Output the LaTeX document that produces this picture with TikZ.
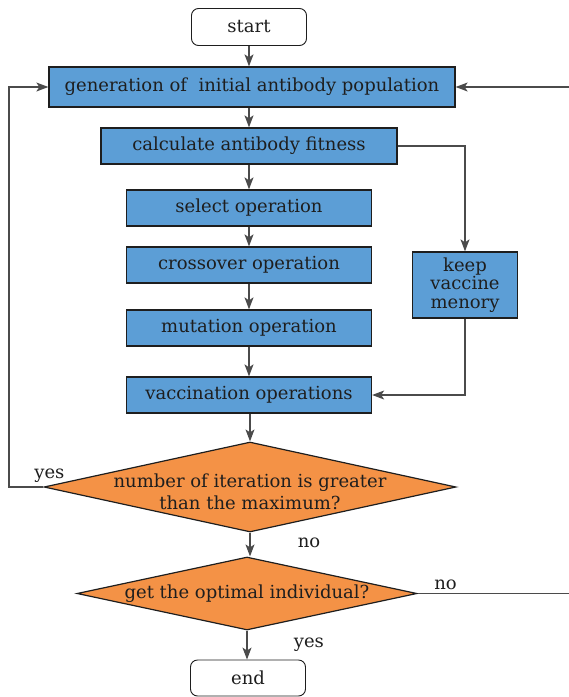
\documentclass[tikz,border=0pt]{standalone}
\usepackage{fontspec}
\setmainfont{DejaVu Serif}
\usepackage{tikz}
\usetikzlibrary{shapes.geometric,arrows.meta}
\definecolor{boxblue}{RGB}{92,158,214}
\definecolor{deciorange}{RGB}{244,146,70}
\definecolor{inkgray}{RGB}{30,30,30}
% two lines of a decision, kept out of the shape size
\newcommand{\decilines}[1]{\raisebox{-22pt}[0pt][0pt]{\begin{tabular}[b]{@{}c@{}}#1\end{tabular}}}

\begin{document}
\begin{tikzpicture}[x=1pt,y=-1pt,>={Stealth[length=12pt,width=9pt,inset=3pt]},
    font=\fontsize{18}{22}\selectfont,text=inkgray,
    terminal/.style={draw=inkgray,rounded corners=7pt,minimum width=115pt,minimum height=37pt,line width=0.9pt},
    process/.style={draw=inkgray,fill=boxblue,minimum height=36pt,line width=1.3pt},
    decision/.style={diamond,draw=inkgray,fill=deciorange,line width=1.2pt,align=center,inner sep=0pt},
    line/.style={draw=inkgray!80,line width=1.1pt}]
    \useasboundingbox (0,0) rectangle (569,697);
    \node[terminal] (start) at (249,27) {start};
    \node[process,minimum width=406pt,minimum height=40pt] (gen) at (252,87) {generation of \ initial antibody population};
    \node[process,minimum width=296pt] (calc) at (249,146) {calculate antibody fitness};
    \node[process,minimum width=245pt] (select) at (249,208) {select operation};
    \node[process,minimum width=245pt] (cross) at (249,265) {crossover operation};
    \node[process,minimum width=245pt] (mut) at (249,328) {mutation operation};
    \node[process,minimum width=245pt] (vacc) at (249,395) {vaccination operations};
    \node[process,minimum width=105pt,minimum height=66pt,align=center,inner sep=1pt,
        font=\fontsize{18}{18.5}\selectfont] (keep) at (465,285) {keep\\vaccine\\menory};
    \node[decision,aspect=4.58,minimum width=412pt,minimum height=90pt] (iter) at (250,487)
        {\decilines{number of iteration is greater\\than the maximum?}};
    \node[decision,aspect=4.66,minimum width=340pt,minimum height=73pt] (opt) at (247,593.5) {get the optimal individual?};
    \node[terminal,minimum height=36pt] (end) at (248,678) {end};
    \coordinate (lft) at (9,487);
    \coordinate (rgt) at (573,593.5);

    \draw[line,->] (start.south) -- (start.south |- gen.north);
    \draw[line,->] (gen.south -| calc) -- (calc);
    \draw[line,->] (calc) -- (select);
    \draw[line,->] (select) -- (cross);
    \draw[line,->] (cross) -- (mut);
    \draw[line,->] (mut) -- (vacc);
    \draw[line,->] (calc.east) -| (keep.north);
    \draw[line,->] (keep.south) |- (vacc.east);
    \draw[line,->] (vacc.south -| iter) -- (iter.north);
    \draw[line,->] (iter.south) -- node[anchor=west,xshift=44pt,pos=0.45] {no} (iter.south |- opt.north);
    \draw[line,->] (iter.west) -- node[pos=0,above,xshift=6pt,yshift=1pt] {yes} (lft) |- (gen.west);
    \draw[line,->] (opt.east) -- node[pos=0.18,above] {no} (rgt) |- (gen.east);
    \draw[line,->] (opt.south) -- node[anchor=west,xshift=43pt] {yes} (opt.south |- end.north);
\end{tikzpicture}
\end{document}
